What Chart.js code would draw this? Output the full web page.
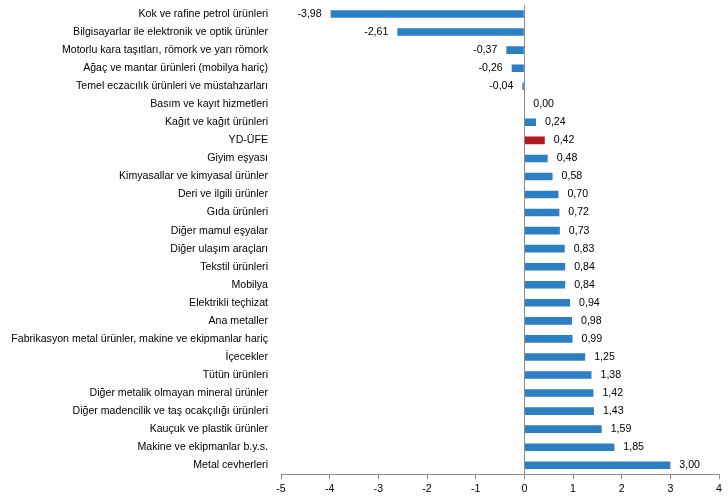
<!DOCTYPE html>
<html>
<head>
<meta charset="utf-8">
<script src="https://cdn.jsdelivr.net/npm/chart.js@4"></script>
<style>
  html, body { margin: 0; padding: 0; background: #fff; }
  #wrap { width: 728px; height: 498px; }
</style>
</head>
<body>
<div id="wrap"><canvas id="chart"></canvas></div>
<script>
const categories = [
  "Kok ve rafine petrol ürünleri",
  "Bilgisayarlar ile elektronik ve optik ürünler",
  "Motorlu kara taşıtları, römork ve yarı römork",
  "Ağaç ve mantar ürünleri (mobilya hariç)",
  "Temel eczacılık ürünleri ve müstahzarları",
  "Basım ve kayıt hizmetleri",
  "Kağıt ve kağıt ürünleri",
  "YD-ÜFE",
  "Giyim eşyası",
  "Kimyasallar ve kimyasal ürünler",
  "Deri ve ilgili ürünler",
  "Gıda ürünleri",
  "Diğer mamul eşyalar",
  "Diğer ulaşım araçları",
  "Tekstil ürünleri",
  "Mobilya",
  "Elektrikli teçhizat",
  "Ana metaller",
  "Fabrikasyon metal ürünler, makine ve ekipmanlar hariç",
  "İçecekler",
  "Tütün ürünleri",
  "Diğer metalik olmayan mineral ürünler",
  "Diğer madencilik ve taş ocakçılığı ürünleri",
  "Kauçuk ve plastik ürünler",
  "Makine ve ekipmanlar b.y.s.",
  "Metal cevherleri",
];

const changes = [
  -3.98, -2.61, -0.37, -0.26, -0.04, 0.0, 0.24, 0.42, 0.48, 0.58, 0.7, 0.72, 0.73,
  0.83, 0.84, 0.84, 0.94, 0.98, 0.99, 1.25, 1.38, 1.42, 1.43, 1.59, 1.85, 3.0,
];

const highlight = "YD-ÜFE";
const xMin = -5;
const xMax = 4;

const FONT = "'Liberation Sans', Arial, sans-serif";
const FONT_SIZE = 10.6;

const barColors = categories.map((c) => (c === highlight ? "#b3191d" : "#2b7fc3"));

// value labels next to bar ends, with comma decimals
const valueLabels = {
  id: "valueLabels",
  afterDatasetsDraw(chart) {
    const ctx = chart.ctx;
    const meta = chart.getDatasetMeta(0);
    const x0 = chart.scales.x.getPixelForValue(0);
    ctx.save();
    ctx.font = FONT_SIZE + "px " + FONT;
    ctx.fillStyle = "#000";
    ctx.textBaseline = "middle";
    meta.data.forEach((bar, i) => {
      const v = changes[i];
      const txt = v.toFixed(2).replace(".", ",");
      if (v < 0) {
        ctx.textAlign = "right";
        ctx.fillText(txt, bar.x - 9, bar.y);
      } else {
        ctx.textAlign = "left";
        ctx.fillText(txt, Math.max(bar.x, x0) + 9, bar.y);
      }
    });
    ctx.restore();
  },
};

// vertical axis line at zero
const zeroLine = {
  id: "zeroLine",
  afterDatasetsDraw(chart) {
    const { ctx, chartArea } = chart;
    const x = Math.round(chart.scales.x.getPixelForValue(0)) + 0.5;
    ctx.save();
    ctx.strokeStyle = "#8c8c8c";
    ctx.lineWidth = 1;
    ctx.beginPath();
    ctx.moveTo(x, chartArea.top);
    ctx.lineTo(x, chartArea.bottom);
    ctx.stroke();
    ctx.restore();
  },
};

new Chart(document.getElementById("chart"), {
  type: "bar",
  data: {
    labels: categories,
    datasets: [
      {
        data: changes,
        backgroundColor: barColors,
        borderWidth: 0,
        categoryPercentage: 1,
        barPercentage: 0.42,
      },
    ],
  },
  options: {
    indexAxis: "y",
    responsive: true,
    maintainAspectRatio: false,
    animation: false,
    layout: { padding: { top: 5, right: 9, bottom: 0, left: 0 } },
    plugins: {
      legend: { display: false },
      tooltip: { enabled: false },
    },
    scales: {
      x: {
        min: xMin,
        max: xMax,
        ticks: {
          stepSize: 1,
          color: "#000",
          font: { family: FONT, size: FONT_SIZE },
          padding: 3,
        },
        grid: {
          drawOnChartArea: false,
          tickLength: 5,
          color: "#8c8c8c",
        },
        border: { color: "#8c8c8c" },
      },
      y: {
        afterFit: (scale) => {
          scale.width = 281;
          scale.paddingTop = 0;
          scale.paddingBottom = 0;
        },
        ticks: {
          color: "#000",
          font: { family: FONT, size: FONT_SIZE },
          padding: 13,
          autoSkip: false,
        },
        grid: { display: false, drawTicks: false },
        border: { display: false },
      },
    },
  },
  plugins: [valueLabels, zeroLine],
});
</script>
</body>
</html>
